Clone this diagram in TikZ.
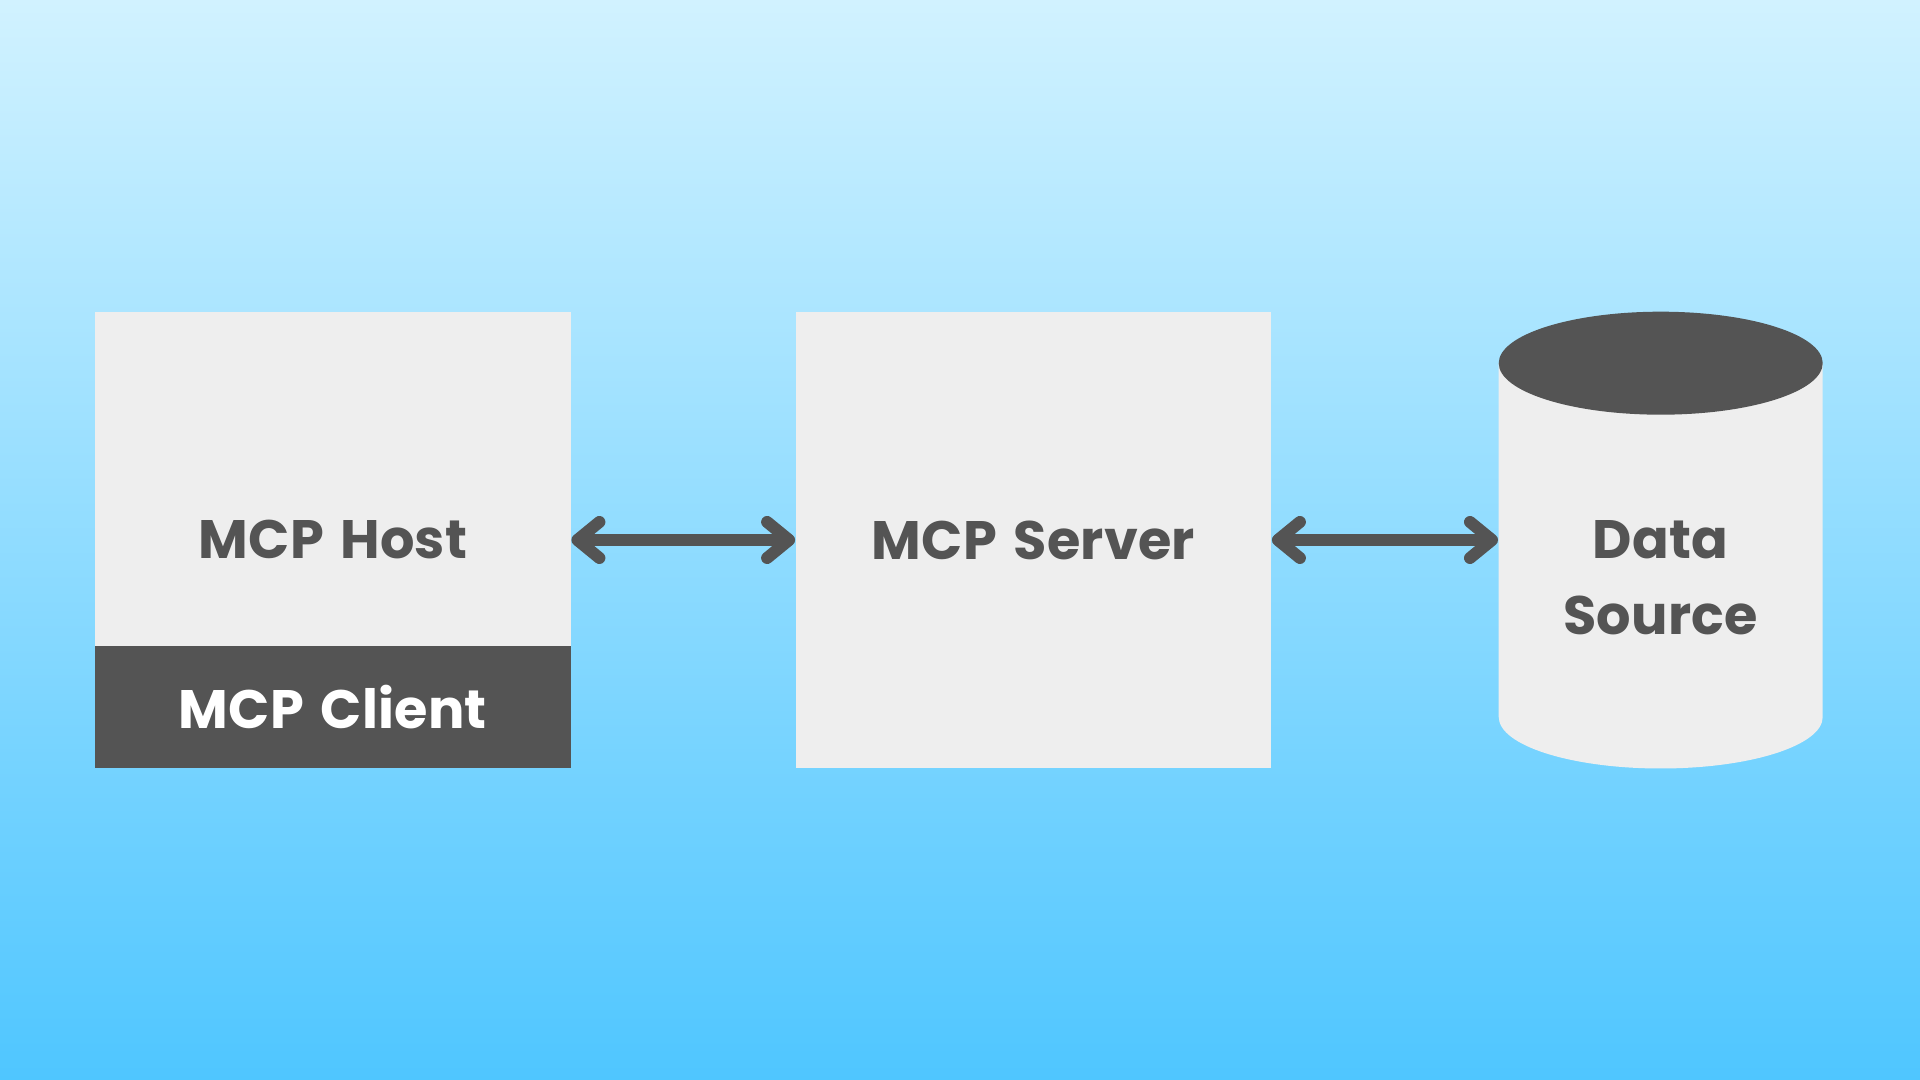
\documentclass[tikz,border=0pt]{standalone}
\usepackage{fontspec}
\usetikzlibrary{arrows.meta}
\setmainfont{Poppins}[WordSpace=1.4, LetterSpace=.5]
\definecolor{darkgrey}{HTML}{545454}
\definecolor{lightgrey}{HTML}{EEEEEE}
\definecolor{skytop}{HTML}{D1F2FF}
\definecolor{skybottom}{HTML}{4FC6FF}
\tikzset{
    boxlabel/.style={font=\fontsize{15.4pt}{21.6pt}\selectfont\bfseries, text=darkgrey, align=center},
    mcpbox/.style={rectangle, fill=lightgrey, minimum width=4.754cm, minimum height=4.565cm, inner sep=0pt, boxlabel},
    linkarrow/.style={draw=darkgrey, line width=.12cm, line cap=round, {Straight Barb[round, length=.22cm, width=.36cm]}-{Straight Barb[round, length=.22cm, width=.36cm]}}
}

\begin{document}
\begin{tikzpicture}
    % Background
    \useasboundingbox (0,0) rectangle (19.2,10.8);
    \fill[top color=skytop, bottom color=skybottom] (0,0) rectangle (19.2,10.8);
    % Host and Client
    \node[mcpbox] (hostbox) at (3.33,5.4) {MCP Host};
    \node[rectangle, fill=darkgrey, minimum width=4.754cm, minimum height=1.22cm, inner sep=0pt, boxlabel, text=white, anchor=south] (clientbox) at (hostbox.south) {MCP Client};
    % Server
    \node[mcpbox] (serverbox) at (10.335,5.4) {MCP Server};
    % Data Source
    \fill[lightgrey] (14.987,7.168) -- (14.987,3.63) arc[start angle=180, end angle=360, x radius=1.62, y radius=.515] -- (18.227,7.168) -- cycle;
    \fill[darkgrey] (16.607,7.168) ellipse[x radius=1.62, y radius=.515];
    \node[minimum width=3.24cm, minimum height=4.565cm, inner sep=0pt] (datasource) at (16.607,5.4) {};
    \node[boxlabel] (datalabel) at (16.607,5.02) {Data\\Source};
    % Arrows
    \foreach \i/\j in {hostbox.east/serverbox.west, serverbox.east/datasource.west} {
        \draw[linkarrow] (\i) -- (\j);
    }
\end{tikzpicture}
\end{document}
